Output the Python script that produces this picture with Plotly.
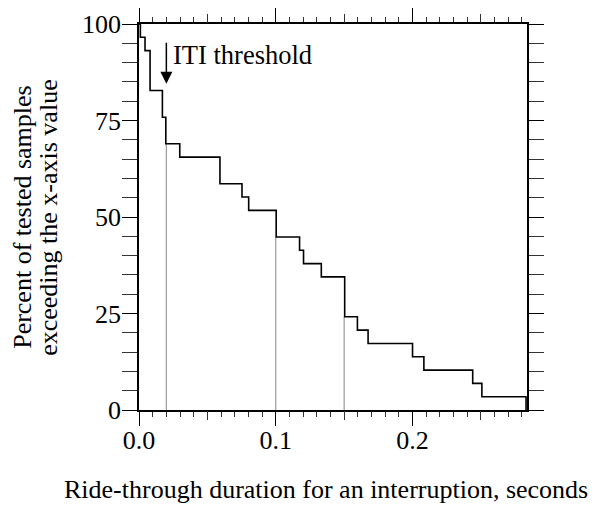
import plotly.graph_objects as go

# Step curve: ride-through duration (s) at which each drop occurs, and percent remaining after the drop
durations = [0.0, 0.001, 0.0044, 0.0081, 0.0171, 0.0196, 0.0298, 0.0592, 0.0753, 0.0802,
             0.1003, 0.1174, 0.1203, 0.1333, 0.1504, 0.1597, 0.1675, 0.2000, 0.2083,
             0.244, 0.2507, 0.283]
percents = [100.0, 96.55, 93.10, 82.76, 75.86, 68.97, 65.52, 58.62, 55.17, 51.72,
            44.83, 41.38, 37.93, 34.48, 24.14, 20.69, 17.24, 13.79, 10.34,
            6.90, 3.45, 0.0]

# Reference (gray) vertical lines and the value where they meet the curve
ref_x = [0.02, 0.1, 0.15]
ref_top = [68.97, 44.83, 24.14]

# Threshold annotation
iti_x = 0.02
iti_arrow_tail = 95.5
iti_arrow_head = 84.5
iti_label = "ITI threshold"

x_tickvals = [0.0, 0.1, 0.2]
x_ticktext = ["0.0", "0.1", "0.2"]
x_midticks = [0.05, 0.15, 0.25]
y_tickvals = [0, 25, 50, 75, 100]

x_title = "Ride-through duration for an interruption, seconds"
y_title_lines = ["Percent of tested samples", "exceeding the x-axis value"]

FONT = "Liberation Serif, Times New Roman, serif"
FS = 26

fig = go.Figure()

gx, gy = [], []
for xv, top in zip(ref_x, ref_top):
    gx += [xv, xv, None]
    gy += [0, top, None]
fig.add_trace(go.Scatter(x=gx, y=gy, mode="lines",
                         line=dict(color="#999999", width=1.2),
                         hoverinfo="skip", showlegend=False))

fig.add_trace(go.Scatter(x=durations, y=percents, mode="lines",
                         line=dict(color="black", width=1.6, shape="hv"),
                         showlegend=False))

# invisible trace on medium-tick axis
fig.add_trace(go.Scatter(x=[0], y=[0], xaxis="x2", mode="markers",
                         marker=dict(opacity=0), hoverinfo="skip", showlegend=False))

fig.add_annotation(x=iti_x, y=iti_arrow_head, ax=iti_x, ay=iti_arrow_tail,
                   xref="x", yref="y", axref="x", ayref="y",
                   showarrow=True, arrowhead=2, arrowsize=1.6, arrowwidth=1.5,
                   arrowcolor="black", text="")
fig.add_annotation(x=iti_x, y=92, xref="x", yref="y", text=iti_label,
                   showarrow=False, xanchor="left", yanchor="middle", xshift=5,
                   font=dict(family=FONT, size=26.5, color="black"))

fig.add_annotation(x=-0.302, y=0.5, xref="paper", yref="paper", text=y_title_lines[0],
                   textangle=-90, showarrow=False, xanchor="center", yanchor="middle",
                   font=dict(family=FONT, size=FS, color="black"))
fig.add_annotation(x=-0.235, y=0.5, xref="paper", yref="paper", text=y_title_lines[1],
                   textangle=-90, showarrow=False, xanchor="center", yanchor="middle",
                   font=dict(family=FONT, size=FS, color="black"))
fig.add_annotation(x=0.482, y=-0.207, xref="paper", yref="paper", text=x_title,
                   showarrow=False, xanchor="center", yanchor="middle",
                   font=dict(family=FONT, size=FS, color="black"))

fig.update_layout(
    width=601, height=505,
    margin=dict(l=131, r=82, t=16, b=103, autoexpand=False),
    paper_bgcolor="white", plot_bgcolor="white",
    font=dict(family=FONT, size=FS, color="black"),
    xaxis=dict(range=[0, 0.2837], tickvals=x_tickvals, ticktext=x_ticktext,
               ticks="outside", ticklen=14, tickwidth=1, tickcolor="black",
               ticklabelstandoff=-8, automargin=False,
               minor=dict(dtick=0.01, tick0=0, ticks="outside", ticklen=5, tickcolor="#333333"),
               showline=True, linecolor="black", linewidth=1.5, mirror="allticks",
               showgrid=False, zeroline=False, fixedrange=True),
    xaxis2=dict(range=[0, 0.2837], overlaying="x", anchor="y", side="bottom",
                tickvals=x_midticks, showticklabels=False, ticks="outside", ticklen=9,
                tickcolor="#333333", mirror="allticks", showline=False, automargin=False,
                showgrid=False, zeroline=False),
    yaxis=dict(range=[0, 100], tickvals=y_tickvals, ticks="outside", ticklen=15,
               tickwidth=1, tickcolor="black", ticklabelstandoff=-4, automargin=False,
               minor=dict(dtick=5, tick0=0, ticks="outside", ticklen=9, tickcolor="#333333"),
               showline=True, linecolor="black", linewidth=1.5, mirror="allticks",
               showgrid=False, zeroline=False),
)

fig.write_html("out.html")
